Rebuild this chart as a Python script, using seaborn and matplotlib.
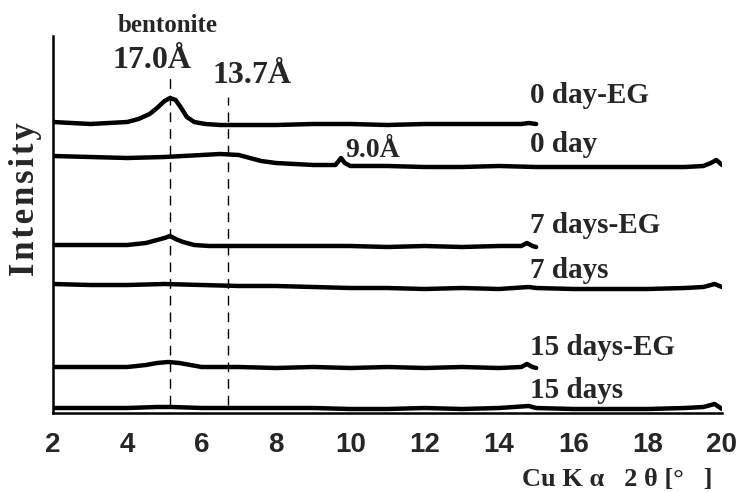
"""XRD patterns of bentonite samples (0, 7, 15 days, with/without EG)."""

import matplotlib

matplotlib.use("Agg")
import matplotlib.pyplot as plt
import seaborn as sns

# --- data (intensity in arbitrary units) ---
x_0day_eg = [2, 2.5, 3, 3.5, 4, 4.3, 4.6, 4.8, 5.0, 5.15, 5.3, 5.45, 5.6, 5.8,
             6.1, 6.5, 7, 8, 9, 10, 11, 12, 13, 14, 14.6, 14.8, 15]
y_0day_eg = [291, 290, 289, 290, 291, 294, 299, 305, 312, 315, 313, 305, 296, 291,
             289, 288, 288, 288, 289, 289, 288, 289, 289, 289, 289, 290, 289]

x_0day = [2, 3, 4, 5, 5.5, 6, 6.5, 7, 7.3, 7.6, 8, 8.5, 9, 9.6, 9.75, 9.85, 10,
          11, 12, 13, 14, 15, 16, 17, 18, 19, 19.5, 19.7, 19.85, 20]
y_0day = [257, 256, 255, 256, 257, 258, 259, 258, 255, 252, 250, 249, 248, 248, 255,
          250, 247, 247, 246, 246, 247, 246, 246, 246, 246, 246, 247, 250, 253, 248]

x_7day_eg = [2, 3, 4, 4.5, 4.8, 5.0, 5.15, 5.3, 5.5, 5.8, 6.2, 7, 8, 9, 10, 11,
             12, 13, 14, 14.6, 14.75, 14.9, 15]
y_7day_eg = [168, 168, 168, 170, 173, 175, 177, 174, 171, 168, 167, 167, 167, 167,
             167, 166, 167, 166, 167, 167, 170, 167, 166]

x_7day = [2, 3, 4, 5, 6, 7, 8, 9, 10, 11, 12, 13, 14, 14.8, 15, 16, 17, 18, 19,
          19.5, 19.8, 20]
y_7day = [129, 128, 128, 129, 128, 127, 127, 126, 125, 125, 124, 125, 124, 126,
          125, 124, 124, 124, 125, 126, 129, 126]

x_15day_eg = [2, 3, 4, 4.5, 4.8, 5.1, 5.4, 5.7, 6.0, 7, 8, 9, 10, 11, 12, 13, 14,
              14.6, 14.75, 14.9, 15]
y_15day_eg = [46, 46, 46, 48, 50, 51, 50, 48, 46, 46, 45, 46, 45, 46, 45, 46, 45,
              46, 49, 46, 45]

x_15day = [2, 3, 4, 4.8, 5.2, 6, 7, 8, 9, 10, 11, 12, 13, 14, 14.8, 15, 16, 17,
           18, 19, 19.5, 19.8, 20]
y_15day = [5, 5, 5, 6, 6, 5, 5, 5, 5, 4, 4, 5, 4, 5, 7, 5, 4, 4, 4, 5, 6, 9, 4]

series = [
    (x_0day_eg, y_0day_eg), (x_0day, y_0day),
    (x_7day_eg, y_7day_eg), (x_7day, y_7day),
    (x_15day_eg, y_15day_eg), (x_15day, y_15day),
]
labels = ["0 day-EG", "0 day", "7 days-EG", "7 days", "15 days-EG", "15 days"]
label_y = [310, 261, 180, 135, 58, 15]

peak_x = [5.15, 6.7]
peak_top = [338, 316]
peak_text = ["17.0Å", "13.7Å", "9.0Å"]
peak_text_pos = [(3.61, 345), (6.28, 330), (9.86, 256)]
xticks = [2, 4, 6, 8, 10, 12, 14, 16, 18, 20]

sns.set_style("white")
serif = ["Liberation Serif", "DejaVu Serif"]
sans = ["Liberation Sans", "DejaVu Sans"]

fig = plt.figure(figsize=(7.41, 4.92), dpi=100)
ax = fig.add_axes([53 / 741, 79 / 492, 669 / 741, 377 / 492])

for xs, ys in series:
    sns.lineplot(x=xs, y=ys, ax=ax, color="black", linewidth=3.2)

for px, top in zip(peak_x, peak_top):
    ax.plot([px, px], [8, top], color="black", linewidth=1.0,
            linestyle=(0, (7, 5)))

for txt, yy in zip(labels, label_y):
    ax.text(14.83, yy, txt, fontsize=21, fontweight="bold", family=serif,
            va="baseline", ha="left", clip_on=False)

for txt, (tx, ty) in zip(peak_text, peak_text_pos):
    size = 20 if txt == "9.0Å" else 23
    ax.text(tx, ty, txt, fontsize=size, fontweight="bold", family=serif,
            va="baseline", ha="left", clip_on=False)

ax.text(5.09, 381, "bentonite", fontsize=18, fontweight="bold", family=serif,
        va="baseline", ha="center", clip_on=False)

ax.set_xlim(2, 20)
ax.set_ylim(0, 377)
ax.set_xticks(xticks)
ax.set_xticklabels([str(t) for t in xticks], fontsize=20, fontweight="bold",
                   family=sans)
ax.set_yticks([])
ax.tick_params(axis="x", length=0, pad=14)
ax.set_xlabel("")
ax.set_ylabel("")

sns.despine(ax=ax, top=True, right=True)
for side in ("left", "bottom"):
    ax.spines[side].set_linewidth(1.8)
    ax.spines[side].set_color("black")

fig.text(25 / 741, 1 - 199 / 492, "\u200a".join("Intensity"), rotation=90,
         fontsize=25, fontweight="bold", family=serif, ha="center", va="center")
fig.text(522 / 741, 1 - 486 / 492, "Cu K α   2 θ [°   ]", fontsize=19,
         fontweight="bold", family=serif, ha="left", va="baseline")

fig.savefig("out.png", dpi=100)
